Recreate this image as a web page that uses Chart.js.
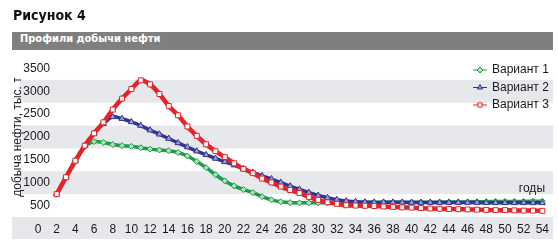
<!DOCTYPE html>
<html>
<head>
<meta charset="utf-8">
<title>Рисунок 4</title>
<script src="https://cdn.jsdelivr.net/npm/chart.js@4.4.1/dist/chart.umd.min.js"></script>
<style>
  html, body { margin: 0; padding: 0; background: #fff; }
  #wrap { position: relative; width: 558px; height: 245px; overflow: hidden; }
  #myChart { position: absolute; left: 0; top: 0; }
  .fig { position: absolute; left: 13px; top: 7px; font: bold 14px "Liberation Sans Narrow", "DejaVu Sans Condensed", sans-serif; color: #111; }
  .bar { position: absolute; left: 12px; top: 32px; width: 541px; height: 18px; box-sizing: border-box; padding-left: 8px;
         background: #7f7f7f; color: #fff; line-height: 18px; font: bold 11px "Liberation Sans Narrow", "DejaVu Sans Condensed", sans-serif; }
</style>
</head>
<body>
<div id="wrap">
  <canvas id="myChart" width="558" height="245"></canvas>
  <div class="fig">Рисунок 4</div>
  <div class="bar">Профили добычи нефти</div>
</div>
<script>
const years = [2, 3, 4, 5, 6, 7, 8, 9, 10, 11, 12, 13, 14, 15, 16, 17, 18, 19, 20, 21, 22, 23, 24, 25, 26, 27, 28,
    29, 30, 31, 32, 33, 34, 35, 36, 37, 38, 39, 40, 41, 42, 43, 44, 45, 46, 47, 48, 49, 50, 51, 52, 53, 54]
const variant1 = [750, 1120, 1480, 1790, 1900, 1880, 1835, 1810, 1795, 1765, 1735, 1715, 1700, 1660, 1585, 1465, 1330,
    1175, 1040, 930, 850, 785, 695, 625, 585, 565, 560, 560, 560, 565, 570, 570, 575, 575, 575, 575, 575, 575, 575,
    575, 575, 575, 580, 580, 580, 585, 585, 590, 590, 590, 590, 595, 595]
const variant2 = [750, 1120, 1480, 1810, 2080, 2290, 2440, 2400, 2330, 2250, 2150, 2060, 1965, 1870, 1780, 1690, 1610,
    1530, 1455, 1385, 1300, 1225, 1150, 1080, 1005, 925, 855, 785, 720, 670, 630, 600, 585, 575, 570, 570, 570, 570,
    565, 565, 565, 565, 565, 565, 565, 565, 560, 560, 560, 560, 560, 560, 560]
const variant3 = [750, 1120, 1480, 1810, 2080, 2320, 2600, 2840, 3050, 3240, 3150, 2940, 2680, 2475, 2230, 2025, 1840,
    1690, 1560, 1425, 1305, 1210, 1090, 1005, 915, 840, 775, 690, 625, 572, 537, 507, 500, 495, 490, 480, 470, 460,
    455, 445, 435, 430, 425, 420, 415, 410, 405, 400, 400, 395, 390, 390, 385]
const seriesNames = ['Вариант 1', 'Вариант 2', 'Вариант 3']
const xTicks = [0, 2, 4, 6, 8, 10, 12, 14, 16, 18, 20, 22, 24, 26, 28, 30, 32, 34, 36, 38, 40, 42, 44, 46, 48, 50, 52, 54]
const yTicks = [500, 1000, 1500, 2000, 2500, 3000, 3500]
const yTitle = 'добыча нефти, тыс. т'
const xTitle = 'годы'

const textColor = '#1a1a1a'
const tickFont = { family: '"Liberation Sans", Arial, sans-serif', size: 12 }

const toPoints = values => values.map((v, i) => ({ x: years[i], y: v }))

// grey stripes behind the plot and under the x labels
const bandsPlugin = {
    id: 'bands',
    beforeDraw(chart) {
        const { ctx, chartArea, scales: { y } } = chart
        const half = (yTicks[1] - yTicks[0]) / 2
        ctx.save()
        ctx.fillStyle = '#e6e8eb'
        for (let i = 1; i < yTicks.length; i += 2) {
            const top = y.getPixelForValue(yTicks[i] + half)
            const bottom = y.getPixelForValue(yTicks[i] - half)
            ctx.fillRect(20, top, 553 - 20, bottom - top)
        }
        ctx.fillRect(12, chartArea.bottom, 553 - 12, 22)
        ctx.restore()
    }
}

// y labels overlapping the plot, legend in the top right corner, "годы" caption
const overlayPlugin = {
    id: 'overlay',
    afterDraw(chart) {
        const { ctx, chartArea, scales: { y } } = chart
        ctx.save()
        ctx.font = '12px "Liberation Sans", Arial, sans-serif'
        ctx.textBaseline = 'middle'
        ctx.fillStyle = textColor
        ctx.textAlign = 'right'
        yTicks.forEach(v => ctx.fillText(String(v), chartArea.left + 12, y.getPixelForValue(v)))

        chart.data.datasets.forEach((ds, i) => {
            const yy = chartArea.top + 13 + i * 17.5
            const x0 = chartArea.right - 74
            ctx.strokeStyle = ds.borderColor
            ctx.lineWidth = 1
            ctx.beginPath()
            ctx.moveTo(x0, yy)
            ctx.lineTo(x0 + 14, yy)
            ctx.stroke()
            ctx.fillStyle = ds.pointBackgroundColor
            ctx.strokeStyle = ds.pointBorderColor
            Chart.helpers.drawPoint(ctx, { pointStyle: ds.pointStyle, radius: 3, rotation: 0, borderWidth: 1 }, x0 + 7, yy)
            ctx.fillStyle = textColor
            ctx.textAlign = 'left'
            ctx.fillText(ds.label, x0 + 19, yy)
        })
        ctx.textAlign = 'right'
        ctx.fillText(xTitle, chartArea.right - 2, chartArea.bottom - 28)
        ctx.restore()
    }
}

const ctx = document.getElementById('myChart').getContext('2d')
const chart = new Chart(ctx, {
    type: 'line',
    data: {
        datasets: [{
            label: seriesNames[0],
            data: toPoints(variant1),
            borderColor: '#1e9b4a',
            borderWidth: 3.5,
            pointStyle: 'rectRot',
            pointRadius: 3,
            pointBorderWidth: 1,
            pointBackgroundColor: '#a9e4b4',
            pointBorderColor: '#1e9b4a',
            tension: 0.3,
            order: 3
        }, {
            label: seriesNames[1],
            data: toPoints(variant2),
            borderColor: '#33348e',
            borderWidth: 3.5,
            pointStyle: 'triangle',
            pointRadius: 3.5,
            pointBorderWidth: 1,
            pointBackgroundColor: '#9d9de0',
            pointBorderColor: '#33348e',
            tension: 0.3,
            order: 2
        }, {
            label: seriesNames[2],
            data: toPoints(variant3),
            borderColor: '#e52228',
            borderWidth: 4.5,
            pointStyle: 'rect',
            pointRadius: 3.5,
            pointBorderWidth: 1,
            pointBackgroundColor: '#ffffff',
            pointBorderColor: '#e52228',
            tension: 0.3,
            order: 1
        }]
    },
    options: {
        responsive: false,
        animation: false,
        devicePixelRatio: 1,
        layout: { padding: { top: 57, right: 11, bottom: 0, left: 0 } },
        plugins: { legend: { display: false }, tooltip: { enabled: false } },
        scales: {
            x: {
                type: 'linear',
                min: 0,
                max: 54.5,
                afterBuildTicks: s => { s.ticks = xTicks.map(v => ({ value: v })) },
                afterFit: s => { s.height = 28; s.paddingLeft = 0; s.paddingRight = 0 },
                grid: { display: false, drawTicks: false },
                border: { display: false },
                ticks: { autoSkip: false, maxRotation: 0, padding: 5, color: textColor, font: tickFont, callback: v => v }
            },
            y: {
                min: 250,
                max: 3750,
                afterBuildTicks: s => { s.ticks = yTicks.map(v => ({ value: v })) },
                afterFit: s => { s.width = 38; s.paddingTop = 0; s.paddingBottom = 0 },
                grid: { display: false, drawTicks: false },
                border: { display: false },
                ticks: { display: false },
                title: { display: true, text: yTitle, color: textColor, font: tickFont, padding: { top: 10, bottom: 0 } }
            }
        }
    },
    plugins: [bandsPlugin, overlayPlugin]
})
</script>
</body>
</html>
